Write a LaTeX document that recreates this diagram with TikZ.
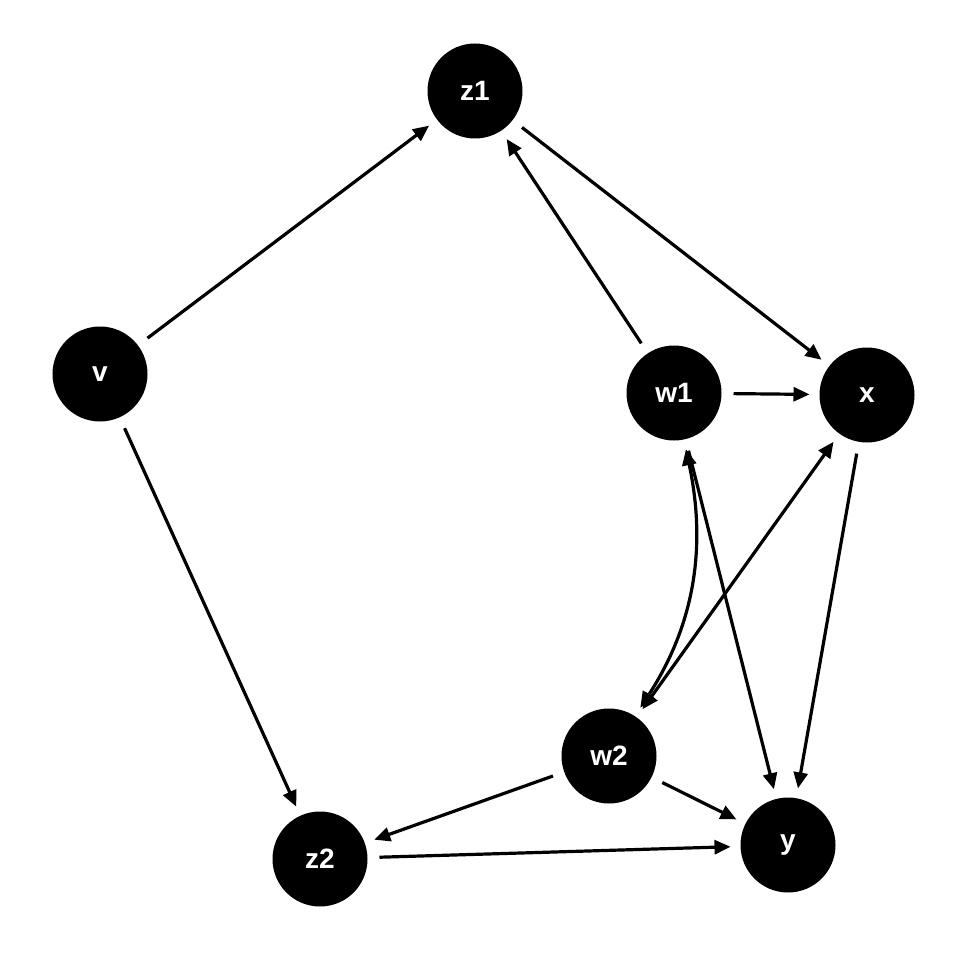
\documentclass[tikz,border=0pt]{standalone}
\usepackage{fontspec}
\setmainfont{Liberation Sans}
\usetikzlibrary{arrows.meta}
\begin{document}
\begin{tikzpicture}[x=1pt,y=-1pt,
  vnode/.style={circle,fill=black,minimum size=95pt,inner sep=0pt,outer sep=0pt,
    text=white,font=\fontsize{28}{30}\selectfont\bfseries},
  edge/.style={line width=3.2pt,-{Triangle[length=16pt,width=14pt]},shorten >=10pt,shorten <=12pt},
  bedge/.style={line width=3.2pt,{Triangle[length=16pt,width=14pt]}-{Triangle[length=16pt,width=14pt]},shorten >=10pt,shorten <=10pt}]
\useasboundingbox (0,0) rectangle (960,960);
\node[vnode] (z1) at (475,91) {z1};
\node[vnode] (v) at (100,374) {v};
\node[vnode] (w1) at (674,393) {w1};
\node[vnode] (x) at (867,395) {x};
\node[vnode] (w2) at (609,756) {w2};
\node[vnode] (y) at (788,845) {y};
\node[vnode] (z2) at (320,859) {z2};
\draw[edge] (v) -- (z1);
\draw[edge] (v) -- (z2);
\draw[edge] (z1) -- (x);
\draw[edge] (w1) -- (z1);
\draw[edge] (w1) -- (x);
\draw[edge] (w1) -- (y);
\draw[edge] (x) -- (y);
\draw[bedge] (x) -- (w2);
\draw[bedge] (w1) to[out=-78,in=57] (w2);
\draw[edge] (w2) -- (z2);
\draw[edge] (w2) -- (y);
\draw[edge] (z2) -- (y);
\end{tikzpicture}
\end{document}
